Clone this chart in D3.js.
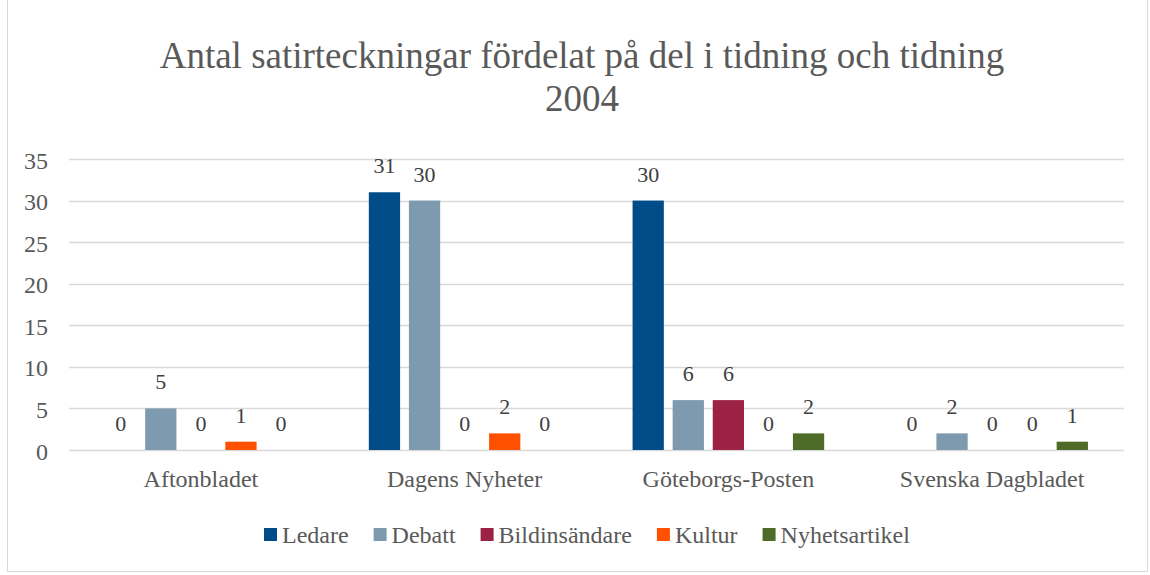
<!DOCTYPE html>
<html>
<head>
<meta charset="utf-8">
<script src="https://cdn.jsdelivr.net/npm/d3@7"></script>
</head>
<body style="margin:0;background:#fff">
<svg id="chart"></svg>
<script>
const categories = ['Aftonbladet', 'Dagens Nyheter', 'Göteborgs-Posten', 'Svenska Dagbladet'];
const seriesNames = ['Ledare', 'Debatt', 'Bildinsändare', 'Kultur', 'Nyhetsartikel'];
const ledare = [0, 31, 30, 0];
const debatt = [5, 30, 6, 2];
const bildinsandare = [0, 0, 6, 0];
const kultur = [1, 2, 0, 0];
const nyhetsartikel = [0, 0, 2, 1];
const yTicks = [0, 5, 10, 15, 20, 25, 30, 35];
const colors = ['#004C89', '#7D9AAE', '#9B2242', '#FF5000', '#4F6B28'];

const seriesValues = [ledare, debatt, bildinsandare, kultur, nyhetsartikel];
const FONT = 'Liberation Serif';

const width = 1150, height = 575;
const margin = { top: 159, right: 26, bottom: 125, left: 69 };

const svg = d3.select('#chart')
  .attr('width', width)
  .attr('height', height)
  .attr('font-family', FONT);

// chart border
svg.append('rect')
  .attr('x', 7.5).attr('y', -1)
  .attr('width', width - 10).attr('height', height - 2.5)
  .attr('fill', 'none')
  .attr('stroke', '#d9d9d9');

// title
const title = svg.append('text')
  .attr('text-anchor', 'middle')
  .attr('fill', '#595959')
  .attr('font-family', FONT)
  .attr('font-size', 37);
title.append('tspan').attr('x', 582).attr('y', 68)
  .text('Antal satirteckningar fördelat på del i tidning och tidning');
title.append('tspan').attr('x', 582).attr('y', 111).text('2004');

const x0 = d3.scaleBand()
  .domain(categories)
  .range([margin.left, width - margin.right])
  .paddingInner(0)
  .paddingOuter(0);

const x1 = d3.scaleBand()
  .domain(seriesNames)
  .range([0, x0.bandwidth()])
  .paddingInner(0.22)
  .paddingOuter(0.9);

const y = d3.scaleLinear()
  .domain([0, 35])
  .range([height - margin.bottom, margin.top]);

// gridlines
svg.append('g')
  .selectAll('line')
  .data(yTicks)
  .join('line')
  .attr('x1', margin.left)
  .attr('x2', width - margin.right)
  .attr('y1', d => Math.round(y(d)) + 0.5)
  .attr('y2', d => Math.round(y(d)) + 0.5)
  .attr('stroke', '#d9d9d9')
  .attr('stroke-width', 1.5);

// y axis
const yAxis = svg.append('g')
  .attr('transform', `translate(${margin.left - 21},0)`)
  .call(d3.axisLeft(y).tickValues(yTicks).tickSize(0).tickPadding(0))
  .attr('font-family', FONT)
  .attr('font-size', 24);
yAxis.select('.domain').remove();
yAxis.selectAll('text')
  .attr('fill', '#595959')
  .attr('dy', '0.38em');

// x axis labels
const xAxis = svg.append('g')
  .attr('transform', `translate(0,${height - margin.bottom})`)
  .call(d3.axisBottom(x0).tickSize(0).tickPadding(0))
  .attr('font-family', FONT)
  .attr('font-size', 24);
xAxis.select('.domain').remove();
xAxis.selectAll('text')
  .attr('fill', '#595959')
  .attr('dy', '1.55em');

// bars
const barData = [];
categories.forEach((c, ci) => {
  seriesNames.forEach((s, si) => {
    barData.push({ cat: c, series: s, value: seriesValues[si][ci], color: colors[si] });
  });
});

svg.append('g')
  .selectAll('rect')
  .data(barData)
  .join('rect')
  .attr('x', d => x0(d.cat) + x1(d.series))
  .attr('y', d => y(d.value))
  .attr('width', x1.bandwidth())
  .attr('height', d => y(0) - y(d.value))
  .attr('fill', d => d.color);

// data labels
svg.append('g')
  .attr('font-family', FONT)
  .attr('font-size', 22)
  .selectAll('text')
  .data(barData)
  .join('text')
  .attr('x', d => x0(d.cat) + x1(d.series) + x1.bandwidth() / 2)
  .attr('y', d => y(d.value) - 19)
  .attr('text-anchor', 'middle')
  .attr('fill', '#404040')
  .text(d => d.value);

// legend
const legend = svg.append('g')
  .attr('transform', 'translate(264,543)')
  .attr('font-family', FONT)
  .attr('font-size', 24);
let lx = 0;
seriesNames.forEach((s, i) => {
  const g = legend.append('g').attr('transform', `translate(${lx},0)`);
  g.append('rect')
    .attr('x', 0).attr('y', -15)
    .attr('width', 13).attr('height', 13)
    .attr('fill', colors[i]);
  const t = g.append('text')
    .attr('x', 18).attr('y', 0)
    .attr('fill', '#595959')
    .text(s);
  lx += 18 + t.node().getComputedTextLength() + 25;
});
</script>
</body>
</html>
